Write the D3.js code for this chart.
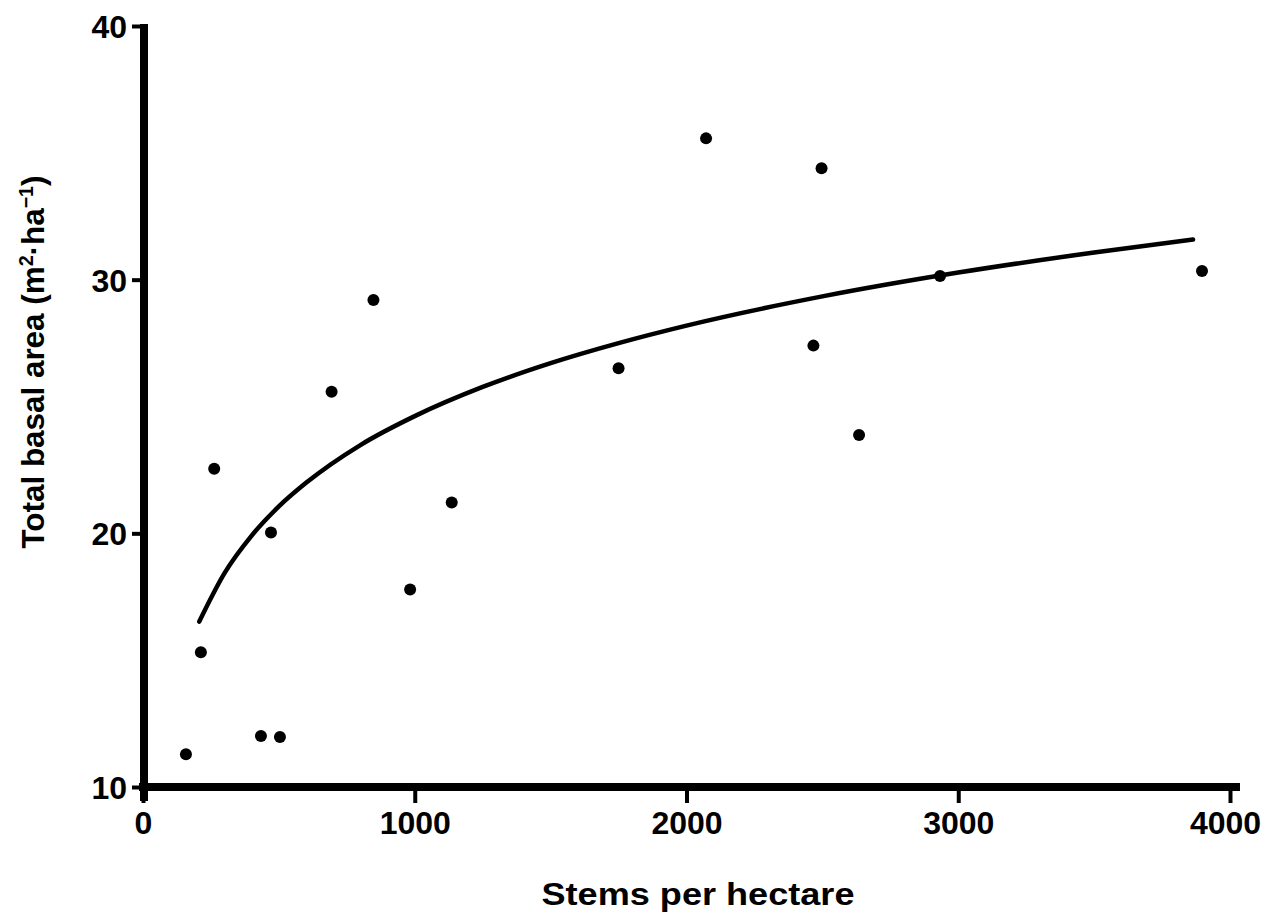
<!DOCTYPE html>
<html>
<head>
<meta charset="utf-8">
<script src="https://cdn.jsdelivr.net/npm/d3@7"></script>
<style>
  html, body { margin: 0; padding: 0; background: #fff; }
  svg { display: block; font-family: "Liberation Sans", Arial, Helvetica, sans-serif; }
</style>
</head>
<body>
<script>
// ---- data ----
const xTickValues = [0, 1000, 2000, 3000, 4000];
const yTickValues = [10, 20, 30, 40];

// observed plots
const stems  = [158, 213, 262, 434, 504, 471, 694, 848, 983, 1136, 1750, 2072, 2467, 2497, 2635, 2933, 3897];
const basal  = [11.29, 15.31, 22.55, 12.01, 11.97, 20.03, 25.58, 29.20, 17.79, 21.22, 26.51, 35.57, 27.40, 34.39, 23.88, 30.14, 30.34];

// fitted curve at several stem densities
const fitStems = [207, 300, 400, 500, 600, 800, 1000, 1250, 1500, 1750, 2000, 2500, 3000, 3500, 3864];
const fitBasal = [16.52, 18.43, 19.91, 21.06, 21.99, 23.48, 24.62, 25.77, 26.71, 27.50, 28.19, 29.34, 30.28, 31.07, 31.58];

const xTitle = "Stems per hectare";

// ---- drawing ----
const W = 1266, H = 922;
const svg = d3.select("body").append("svg").attr("width", W).attr("height", H);

const x = d3.scaleLinear().domain([0, 4000]).range([143, 1230]);
const y = d3.scaleLinear().domain([10, 40]).range([787, 26]);

const tickFont = "32px";

// x axis ticks + labels
const gx = svg.append("g").attr("transform", `translate(0,${y(10)})`)
  .call(d3.axisBottom(x).tickValues(xTickValues).tickSize(16).tickSizeOuter(0).tickFormat(d3.format("d")));
gx.select(".domain").remove();
gx.selectAll(".tick line").attr("stroke", "#000").attr("stroke-width", 4);
gx.selectAll(".tick text")
  .attr("y", 47).attr("dy", 0)
  .attr("dx", d => d === 4000 ? -5 : 0)
  .attr("fill", "#000")
  .style("font-size", tickFont).style("font-weight", "bold")
  .style("font-family", "'Liberation Sans', Arial, sans-serif");

// y axis ticks + labels
const axX = x(0) + 1;
const gy = svg.append("g").attr("transform", `translate(${axX},0)`)
  .call(d3.axisLeft(y).tickValues(yTickValues).tickSize(12).tickSizeOuter(0).tickFormat(d3.format("d")));
gy.select(".domain").remove();
gy.selectAll(".tick line").attr("stroke", "#000").attr("stroke-width", 4);
gy.selectAll(".tick text")
  .attr("x", -17).attr("dy", "0.36em")
  .attr("fill", "#000")
  .style("font-size", tickFont).style("font-weight", "bold")
  .style("font-family", "'Liberation Sans', Arial, sans-serif");

// thick axis lines
svg.append("line")
  .attr("x1", x(0) - 4).attr("x2", x(4000) + 10)
  .attr("y1", y(10)).attr("y2", y(10))
  .attr("stroke", "#000").attr("stroke-width", 8);
svg.append("line")
  .attr("x1", axX).attr("x2", axX)
  .attr("y1", y(40) - 2).attr("y2", y(10) + 14)
  .attr("stroke", "#000").attr("stroke-width", 8);

// fitted curve
const fit = fitStems.map((s, i) => [s, fitBasal[i]]);
svg.append("path")
  .datum(fit)
  .attr("d", d3.line().x(d => x(d[0])).y(d => y(d[1])).curve(d3.curveMonotoneX))
  .attr("fill", "none").attr("stroke", "#000").attr("stroke-width", 4.5)
  .attr("stroke-linecap", "round");

// points
const pts = stems.map((s, i) => ({ s, b: basal[i] }));
svg.append("g").selectAll("circle").data(pts).join("circle")
  .attr("cx", d => x(d.s)).attr("cy", d => y(d.b)).attr("r", 6).attr("fill", "#000");

// x title
svg.append("text")
  .attr("x", 698).attr("y", 905)
  .attr("text-anchor", "middle")
  .attr("textLength", 313).attr("lengthAdjust", "spacingAndGlyphs")
  .style("font-size", "31px").style("font-weight", "bold")
  .attr("fill", "#000")
  .text(xTitle);

// y title with superscripts
const yt = svg.append("text")
  .attr("transform", "translate(44,362) rotate(-90)")
  .attr("text-anchor", "middle")
  .attr("textLength", 373).attr("lengthAdjust", "spacingAndGlyphs")
  .style("font-size", "32px").style("font-weight", "bold")
  .attr("fill", "#000");
yt.append("tspan").text("Total basal area (m");
yt.append("tspan").attr("dy", -11).style("font-size", "20px").text("2");
yt.append("tspan").attr("dy", 11).text("·ha");
yt.append("tspan").attr("dy", -11).style("font-size", "20px").text("−1");
yt.append("tspan").attr("dy", 11).text(")");
</script>
</body>
</html>
